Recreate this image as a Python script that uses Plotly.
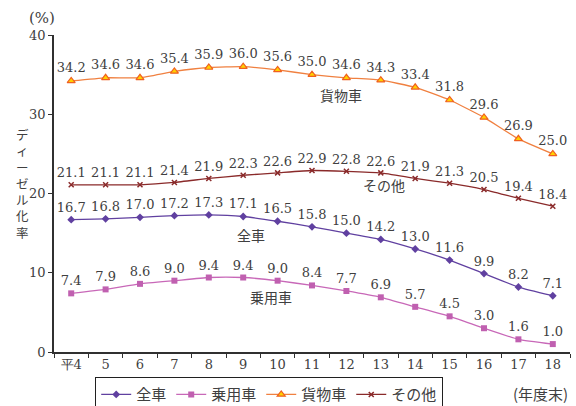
import plotly.graph_objects as go

years = ["平4", "5", "6", "7", "8", "9", "10", "11", "12", "13", "14", "15", "16", "17", "18"]
all_cars = [16.7, 16.8, 17.0, 17.2, 17.3, 17.1, 16.5, 15.8, 15.0, 14.2, 13.0, 11.6, 9.9, 8.2, 7.1]
passenger = [7.4, 7.9, 8.6, 9.0, 9.4, 9.4, 9.0, 8.4, 7.7, 6.9, 5.7, 4.5, 3.0, 1.6, 1.0]
freight = [34.2, 34.6, 34.6, 35.4, 35.9, 36.0, 35.6, 35.0, 34.6, 34.3, 33.4, 31.8, 29.6, 26.9, 25.0]
others = [21.1, 21.1, 21.1, 21.4, 21.9, 22.3, 22.6, 22.9, 22.8, 22.6, 21.9, 21.3, 20.5, 19.4, 18.4]

NUM_FONT = "DejaVu Serif"
JP_FONT = "Noto Sans CJK JP"
TXT = "#404040"

W, H = 576, 406
L, R, T, B = 54, 6, 35, 54
PH = H - T - B

series = [
    ("全車", all_cars, "#6040A0", dict(symbol="diamond", size=6, color="#6040A0")),
    ("乗用車", passenger, "#C868B8", dict(symbol="square", size=6, color="#C060B0")),
    ("貨物車", freight, "#F08040", dict(symbol="triangle-up", size=7, color="#FFD000",
                                      line=dict(color="#F06020", width=1.2))),
    ("その他", others, "#8A2A2A", dict(symbol="x-thin", size=5, color="#8A2A2A",
                                     line=dict(color="#8A2A2A", width=1.5))),
]

fig = go.Figure()
for name, vals, col, mk in series:
    fig.add_trace(go.Scatter(
        x=years, y=vals, name=name, mode="lines+markers+text",
        line=dict(color=col, width=1.3, shape="spline", smoothing=0.4),
        marker=mk,
        text=[f"{v:.1f}" for v in vals], textposition="top center",
        textfont=dict(family=NUM_FONT, size=13, color=TXT),
    ))

# series captions inside the plot
captions = [("貨物車", 7.84, 32.4), ("その他", 9.09, 21.1), ("全車", 5.23, 14.8), ("乗用車", 5.8, 6.95)]
for t, x, y in captions:
    fig.add_annotation(x=x, y=y, xref="x", yref="y", text=t, showarrow=False,
                       font=dict(family=JP_FONT, size=14, color=TXT))

fig.add_annotation(x=0.005, y=1.02, xref="paper", yref="paper", xanchor="right", yanchor="bottom",
                   text="(%)", showarrow=False, font=dict(family=NUM_FONT, size=15, color=TXT))

# vertical axis title, one upright character per line
fig.add_annotation(x=(22 - L) / (W - L - R), y=(H - B - 183) / PH, xref="paper", yref="paper",
                   xanchor="center", yanchor="middle", text="<br>".join("ディーゼル化率"),
                   showarrow=False, font=dict(family=JP_FONT, size=12.5, color=TXT))

fig.add_annotation(x=1.0, y=(H - B - 393) / PH, xref="paper", yref="paper", xanchor="right",
                   yanchor="middle", text="(年度末)", showarrow=False,
                   font=dict(family=JP_FONT, size=15, color=TXT))

fig.update_layout(
    width=W, height=H,
    margin=dict(l=L, r=R, t=T, b=B, autoexpand=False),
    paper_bgcolor="white", plot_bgcolor="white",
    showlegend=True,
    legend=dict(orientation="h", x=(269 - L) / (W - L - R), xanchor="center",
                y=(H - 377) / H, yref="container", yanchor="top",
                bordercolor="#202020", borderwidth=1.2,
                font=dict(family=JP_FONT, size=15, color=TXT),
                itemwidth=30, tracegroupgap=0),
    xaxis=dict(type="category", showline=True, linecolor="#303030", linewidth=1.5,
               ticks="outside", tickson="boundaries", ticklen=4, tickcolor="#303030",
               showgrid=False, range=[-0.5, 14.5],
               tickfont=dict(family=NUM_FONT, size=13, color=TXT)),
    yaxis=dict(range=[0, 40], dtick=10, showline=True, linecolor="#303030", linewidth=1.5,
               ticks="outside", ticklen=4, tickcolor="#303030", showgrid=False, zeroline=False,
               tickfont=dict(family=NUM_FONT, size=13, color=TXT)),
)

fig.write_html("out.html")
